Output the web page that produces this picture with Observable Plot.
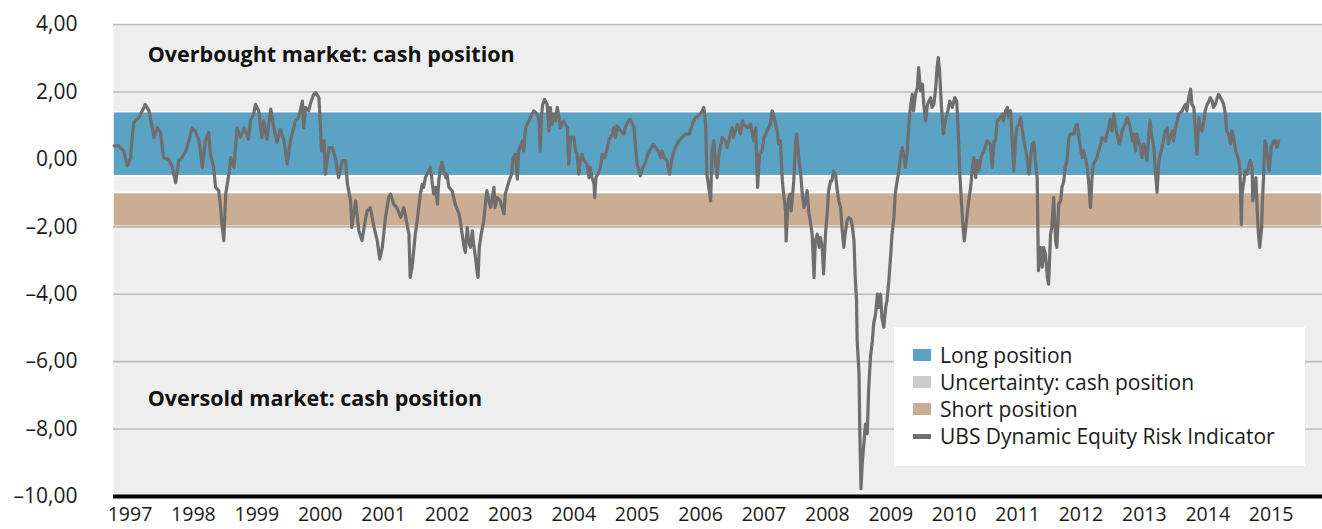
<!DOCTYPE html>
<html><head><meta charset="utf-8">
<script src="https://cdn.jsdelivr.net/npm/d3@7"></script>
<script src="https://cdn.jsdelivr.net/npm/@observablehq/plot@0.6"></script>
<style>
body{margin:0;background:#fff;font-family:"Open Sans",sans-serif;}
#wrap{position:relative;width:1322px;height:529px;}
#legend{position:absolute;left:894px;top:327px;width:411px;height:139px;background:#fff;}
.item{position:absolute;left:19px;height:26px;display:flex;align-items:center;font-size:21px;color:#1a1a1a;white-space:nowrap;}
.sw{display:inline-block;width:18px;margin-right:9px;}
</style></head><body><div id="wrap"></div>
<script>
// decimal-year positions and indicator values
const t = [
1996.75,1996.82,1996.90,1996.96,1997.01,1997.03,1997.06,1997.14,1997.22,1997.24,1997.30,1997.35,1997.38,1997.43,1997.48,1997.53,1997.61,1997.67,1997.72,1997.77,1997.82,1997.88,1997.93,1997.98,
1998.03,1998.09,1998.14,1998.19,1998.24,1998.27,1998.32,1998.35,1998.40,1998.43,1998.45,1998.48,1998.51,1998.56,1998.59,1998.64,1998.69,1998.74,1998.80,1998.87,1998.90,1998.95,1998.98,
1999.03,1999.08,1999.11,1999.16,1999.22,1999.27,1999.32,1999.37,1999.43,1999.48,1999.53,1999.61,1999.66,1999.72,1999.74,1999.77,1999.82,1999.85,1999.90,1999.93,1999.98,
2000.00,2000.02,2000.06,2000.08,2000.14,2000.19,2000.24,2000.29,2000.35,2000.40,2000.43,2000.48,2000.50,2000.56,2000.61,2000.66,2000.71,2000.74,2000.79,2000.85,2000.90,2000.94,2000.98,
2001.03,2001.08,2001.11,2001.16,2001.21,2001.27,2001.32,2001.37,2001.40,2001.42,2001.45,2001.48,2001.50,2001.53,2001.56,2001.58,2001.61,2001.63,2001.66,2001.71,2001.74,2001.77,2001.79,2001.82,2001.85,2001.87,2001.90,2001.92,2001.95,2001.98,
2002.00,2002.03,2002.08,2002.13,2002.19,2002.21,2002.24,2002.27,2002.29,2002.32,2002.34,2002.37,2002.40,2002.42,2002.45,2002.48,2002.49,2002.51,2002.54,2002.58,2002.61,2002.63,2002.66,2002.69,2002.74,2002.76,2002.79,2002.84,2002.87,2002.90,2002.92,2002.95,2002.98,
2003.02,2003.04,2003.08,2003.11,2003.13,2003.19,2003.21,2003.24,2003.29,2003.34,2003.37,2003.42,2003.45,2003.47,2003.49,2003.51,2003.54,2003.58,2003.61,2003.63,2003.66,2003.69,2003.71,2003.74,2003.76,2003.79,2003.84,2003.90,2003.92,2003.95,
2004.00,2004.03,2004.05,2004.08,2004.11,2004.13,2004.16,2004.21,2004.24,2004.26,2004.29,2004.32,2004.33,2004.35,2004.38,2004.42,2004.45,2004.49,2004.53,2004.55,2004.61,2004.63,2004.66,2004.68,2004.74,2004.79,2004.81,2004.86,2004.89,2004.95,2004.97,
2005.00,2005.03,2005.05,2005.09,2005.13,2005.17,2005.21,2005.25,2005.29,2005.33,2005.37,2005.39,2005.43,2005.47,2005.51,2005.55,2005.60,2005.66,2005.71,2005.76,2005.82,2005.87,2005.92,2005.97,
2006.03,2006.05,2006.08,2006.10,2006.16,2006.18,2006.21,2006.23,2006.26,2006.29,2006.34,2006.39,2006.42,2006.47,2006.50,2006.52,2006.58,2006.63,2006.66,2006.68,2006.74,2006.79,2006.81,2006.84,2006.87,2006.89,2006.90,2006.93,2006.97,
2007.00,2007.05,2007.10,2007.13,2007.16,2007.21,2007.23,2007.26,2007.29,2007.31,2007.34,2007.35,2007.38,2007.41,2007.43,2007.47,2007.50,2007.52,2007.55,2007.58,2007.60,2007.63,2007.66,2007.68,2007.71,2007.73,2007.76,2007.79,2007.81,2007.84,2007.87,2007.89,2007.92,2007.94,2007.97,
2008.00,2008.02,2008.05,2008.07,2008.10,2008.13,2008.15,2008.18,2008.21,2008.23,2008.26,2008.28,2008.31,2008.34,2008.37,2008.39,2008.42,2008.44,2008.46,2008.47,2008.50,2008.51,2008.53,2008.55,2008.58,2008.60,2008.63,2008.65,2008.68,2008.71,2008.73,2008.76,2008.79,2008.81,2008.84,2008.86,2008.89,2008.92,2008.94,2008.97,
2009.00,2009.02,2009.05,2009.07,2009.10,2009.13,2009.15,2009.18,2009.21,2009.23,2009.26,2009.29,2009.31,2009.34,2009.36,2009.39,2009.42,2009.44,2009.47,2009.50,2009.52,2009.55,2009.58,2009.63,2009.65,2009.68,2009.71,2009.73,2009.75,2009.77,2009.80,2009.83,2009.86,2009.90,2009.93,2009.97,
2010.01,2010.04,2010.06,2010.09,2010.11,2010.14,2010.16,2010.20,2010.23,2010.26,2010.29,2010.31,2010.34,2010.36,2010.39,2010.42,2010.47,2010.52,2010.57,2010.60,2010.63,2010.65,2010.68,2010.73,2010.76,2010.78,2010.81,2010.84,2010.86,2010.89,2010.91,2010.94,2010.97,2010.99,
2011.02,2011.05,2011.07,2011.10,2011.12,2011.15,2011.18,2011.20,2011.23,2011.26,2011.28,2011.31,2011.32,2011.33,2011.36,2011.39,2011.41,2011.44,2011.47,2011.49,2011.52,2011.54,2011.57,2011.60,2011.62,2011.65,2011.68,2011.70,2011.73,2011.75,2011.78,2011.81,2011.83,2011.89,2011.91,2011.94,2011.97,2011.99,
2012.02,2012.04,2012.07,2012.10,2012.12,2012.15,2012.18,2012.20,2012.25,2012.28,2012.31,2012.33,2012.39,2012.41,2012.44,2012.46,2012.49,2012.52,2012.54,2012.57,2012.60,2012.62,2012.65,2012.67,2012.70,2012.73,2012.75,2012.78,2012.81,2012.83,2012.86,2012.88,2012.91,2012.94,2012.96,2012.99,
2013.02,2013.04,2013.07,2013.09,2013.12,2013.15,2013.17,2013.20,2013.23,2013.25,2013.28,2013.31,2013.33,2013.36,2013.38,2013.41,2013.44,2013.46,2013.49,2013.52,2013.54,2013.60,2013.62,2013.65,2013.67,2013.70,2013.73,2013.75,2013.78,2013.80,2013.83,2013.86,2013.88,2013.91,2013.94,2013.96,2013.99,
2014.02,2014.04,2014.07,2014.09,2014.12,2014.15,2014.17,2014.20,2014.23,2014.25,2014.28,2014.30,2014.33,2014.36,2014.38,2014.41,2014.44,2014.46,2014.49,2014.51,2014.53,2014.54,2014.57,2014.59,2014.62,2014.65,2014.67,2014.70,2014.71,2014.74,2014.76,2014.78,2014.80,2014.82,2014.85,2014.86,2014.88,2014.90,2014.92,2014.95,2014.97,
2015.00,2015.04,2015.07,2015.09,2015.12
];
const v = [
0.40,0.40,0.25,-0.19,0.05,0.55,1.09,1.24,1.54,1.63,1.44,0.94,0.65,0.94,0.80,0.05,0.00,-0.24,-0.69,-0.04,0.05,0.25,0.55,0.94,
0.84,0.55,-0.24,0.55,0.80,0.15,-0.24,-0.83,-0.93,-1.43,-1.92,-2.41,-1.03,-0.44,0.05,-0.24,0.94,0.65,0.94,0.60,1.14,1.34,1.63,
1.44,0.65,1.14,0.60,1.49,0.94,0.50,0.89,0.55,-0.14,0.55,1.14,1.24,1.73,0.94,1.54,1.44,1.68,1.93,1.98,1.83,
1.14,0.25,0.55,-0.44,0.35,0.35,0.05,-0.54,-0.04,-0.04,-0.74,-1.23,-2.02,-1.23,-2.12,-2.41,-1.82,-1.53,-1.43,-2.02,-2.41,-2.96,-2.61,
-1.72,-1.13,-1.03,-1.33,-1.43,-1.72,-1.43,-1.92,-2.22,-3.50,-3.20,-2.61,-2.22,-1.82,-1.33,-1.03,-0.74,-0.83,-0.54,-0.34,-0.24,-0.74,-1.03,-0.83,-1.33,-0.64,-0.24,-0.09,-0.34,-0.54,
-0.44,-0.83,-0.93,-1.33,-1.62,-1.82,-2.22,-2.61,-2.76,-2.02,-2.41,-2.61,-2.12,-2.51,-2.91,-3.40,-3.50,-2.61,-2.22,-1.82,-1.23,-0.93,-1.23,-1.43,-0.83,-1.43,-1.13,-1.23,-1.43,-1.62,-1.03,-0.83,-0.64,
-0.44,0.05,0.15,-0.59,0.25,0.55,0.25,0.94,1.14,1.34,1.44,1.34,1.19,0.25,1.29,1.63,1.78,1.63,0.84,1.54,1.04,1.34,1.14,1.54,1.34,0.94,1.14,0.94,-0.14,0.65,
0.65,0.25,0.15,-0.44,0.05,0.15,-0.04,-0.14,-0.54,-0.24,-0.54,-0.74,-1.13,-0.54,-0.44,-0.24,0.15,0.05,0.35,0.55,0.75,0.94,0.65,0.99,0.84,0.75,0.94,1.14,1.19,0.94,0.45,
-0.14,-0.34,-0.49,-0.24,-0.09,0.15,0.30,0.45,0.35,0.25,0.05,0.25,0.05,-0.04,-0.44,0.05,0.35,0.55,0.65,0.75,0.75,1.04,1.24,1.29,
1.44,1.54,1.04,-0.44,-1.23,0.25,0.55,0.05,-0.54,0.15,0.65,0.55,0.35,0.75,0.94,0.65,1.04,0.75,1.14,1.04,0.94,1.04,0.84,0.55,0.94,-0.34,-0.83,0.15,0.25,
0.65,0.84,1.04,1.44,1.24,0.84,0.45,0.55,-0.64,-1.03,-1.53,-2.42,-1.23,-1.03,-1.53,-0.64,0.55,0.75,0.05,-0.44,-0.93,-1.43,-1.23,-0.93,-1.62,-1.82,-2.22,-3.51,-2.42,-2.22,-2.61,-2.32,-2.61,-3.40,-2.22,
-1.53,-0.93,-0.64,-0.64,-0.34,-0.44,-0.83,-1.23,-1.43,-2.02,-2.61,-2.22,-1.82,-1.73,-1.78,-1.92,-2.42,-3.51,-4.19,-5.38,-6.37,-7.85,-9.77,-9.03,-8.34,-7.85,-8.14,-6.86,-5.87,-5.38,-4.88,-4.59,-4.00,-4.39,-4.00,-4.69,-4.98,-4.39,-4.19,-3.60,
-2.81,-2.22,-1.73,-1.03,-0.64,-0.34,0.05,0.35,0.05,-0.24,0.25,1.14,1.54,1.93,1.44,1.93,2.13,2.72,2.03,2.23,1.63,1.14,1.63,1.83,1.54,1.63,2.13,2.72,3.02,2.62,1.54,0.75,1.14,1.44,1.73,1.54,
1.83,1.73,1.04,-0.44,-1.13,-2.02,-2.42,-1.73,-1.23,-0.83,-0.24,0.05,-0.54,-0.04,-0.34,0.05,0.25,0.55,0.45,-0.24,0.55,0.55,1.14,1.24,1.34,1.14,1.44,1.54,1.24,1.44,0.75,-0.34,0.65,0.94,
1.04,1.24,0.94,0.55,0.35,0.05,-0.44,-0.04,0.45,0.50,-0.04,-0.54,-2.02,-3.30,-2.61,-3.20,-2.61,-2.81,-3.50,-3.70,-2.22,-2.02,-1.13,-2.41,-2.61,-1.33,-1.23,-0.83,-0.64,-0.24,-0.04,0.65,0.75,0.75,0.94,1.04,0.65,0.35,
0.05,0.25,0.05,-0.24,-0.64,-1.43,-0.34,-0.14,0.05,0.25,0.45,0.65,0.55,0.75,0.94,1.19,0.84,1.34,1.04,0.75,0.45,0.55,0.84,0.94,1.04,1.24,1.14,0.94,0.55,0.75,0.25,0.75,0.55,0.35,0.05,0.45,
0.25,-0.04,0.75,1.14,0.65,0.35,-0.24,-0.98,-0.04,0.15,0.35,0.65,0.84,0.94,0.45,0.65,0.84,0.55,0.94,1.14,1.34,1.44,1.54,1.63,1.44,1.83,2.08,1.63,1.54,0.94,0.15,1.24,0.94,0.84,1.14,1.44,1.63,
1.73,1.83,1.73,1.54,1.63,1.83,1.93,1.83,1.73,1.63,1.34,0.84,0.75,0.45,0.84,0.65,0.25,0.15,-0.04,-0.44,-1.93,-1.03,-0.64,-0.34,-0.44,-0.14,-0.04,-0.24,-1.23,-0.93,-0.54,-1.53,-2.22,-2.61,-2.02,-1.33,-0.54,0.55,0.45,-0.04,-0.34,
0.35,0.55,0.55,0.35,0.55
];
const seriesName = "UBS Dynamic Equity Risk Indicator";
const bandNames = ["Long position", "Uncertainty: cash position", "Short position"];
const bandTop = [1.4, -0.5, -1.0];
const bandBottom = [-0.5, -1.0, -2.0];
const bandFill = ["#5ba3c4", "#f0f0f0", "#cbad94"];
const legendSwatch = ["#5ba3c4", "#cccccc", "#cbad94"];
const lineColor = "#6e6e6e";
const yTicks = [4, 2, 0, -2, -4, -6, -8, -10];
const yTickLabels = ["4,00", "2,00", "0,00", "\u20132,00", "\u20134,00", "\u20136,00", "\u20138,00", "\u201310,00"];
const xTicks = [1997,1998,1999,2000,2001,2002,2003,2004,2005,2006,2007,2008,2009,2010,2011,2012,2013,2014,2015];
const xDomain = [1996.74, 2015.81];
const notes = ["Overbought market: cash position", "Oversold market: cash position"];
const noteX = [1997.28, 1997.28];
const noteY = [3.1, -7.1];

const series = t.map((d, i) => ({t: d, v: v[i]}));
const bands = bandNames.map((n, i) => ({name: n, top: bandTop[i], bottom: bandBottom[i], fill: bandFill[i], x1: xDomain[0], x2: xDomain[1]}));
const noteData = notes.map((n, i) => ({text: n, x: noteX[i], y: noteY[i]}));

const chart = Plot.plot({
  width: 1322, height: 529,
  marginLeft: 113, marginRight: 0, marginTop: 24, marginBottom: 33,
  style: {fontFamily: '"Open Sans", sans-serif', background: "transparent", color: "#1a1a1a"},
  x: {domain: xDomain, label: null},
  y: {domain: [-10, 4], label: null},
  marks: [
    Plot.frame({fill: "#eeeeee", stroke: null}),
    Plot.ruleY(yTicks.filter(d => d > -10), {stroke: "#bdbdbd", strokeWidth: 1.6}),
    Plot.rect(bands, {x1: "x1", x2: "x2", y1: "bottom", y2: "top", fill: "fill", stroke: "#ffffff", strokeWidth: 1.5}),
    Plot.ruleY([-2], {stroke: "#b5b5b5", strokeWidth: 1.6}),
    Plot.line(series, {x: "t", y: "v", stroke: lineColor, strokeWidth: 3.2, strokeLinejoin: "round", strokeLinecap: "round"}),
    Plot.ruleY([-10], {stroke: "#000000", strokeWidth: 4}),
    Plot.text(noteData, {x: "x", y: "y", text: "text", textAnchor: "start", fontWeight: "bold", fontSize: 21.5, fill: "#111"}),
    Plot.axisX({ticks: xTicks, tickFormat: d => String(d), tickSize: 0, tickPadding: 11, fontSize: 19.5, label: null}),
    Plot.axisY({ticks: yTicks, tickFormat: d => yTickLabels[yTicks.indexOf(d)], tickSize: 0, tickPadding: 36, fontSize: 21, label: null})
  ]
});
const wrap = document.getElementById("wrap");
wrap.appendChild(chart);

const legend = document.createElement("div");
legend.id = "legend";
const rowsTop = [15, 42, 69, 96];
bandNames.forEach((n, i) => {
  const it = document.createElement("div");
  it.className = "item";
  it.style.top = rowsTop[i] + "px";
  it.innerHTML = `<span class="sw" style="height:12px;background:${legendSwatch[i]}"></span>${n}`;
  legend.appendChild(it);
});
const it = document.createElement("div");
it.className = "item";
it.style.top = rowsTop[3] + "px";
it.innerHTML = `<span class="sw" style="height:5px;background:${lineColor}"></span>${seriesName}`;
legend.appendChild(it);
wrap.appendChild(legend);
</script>
</body></html>
